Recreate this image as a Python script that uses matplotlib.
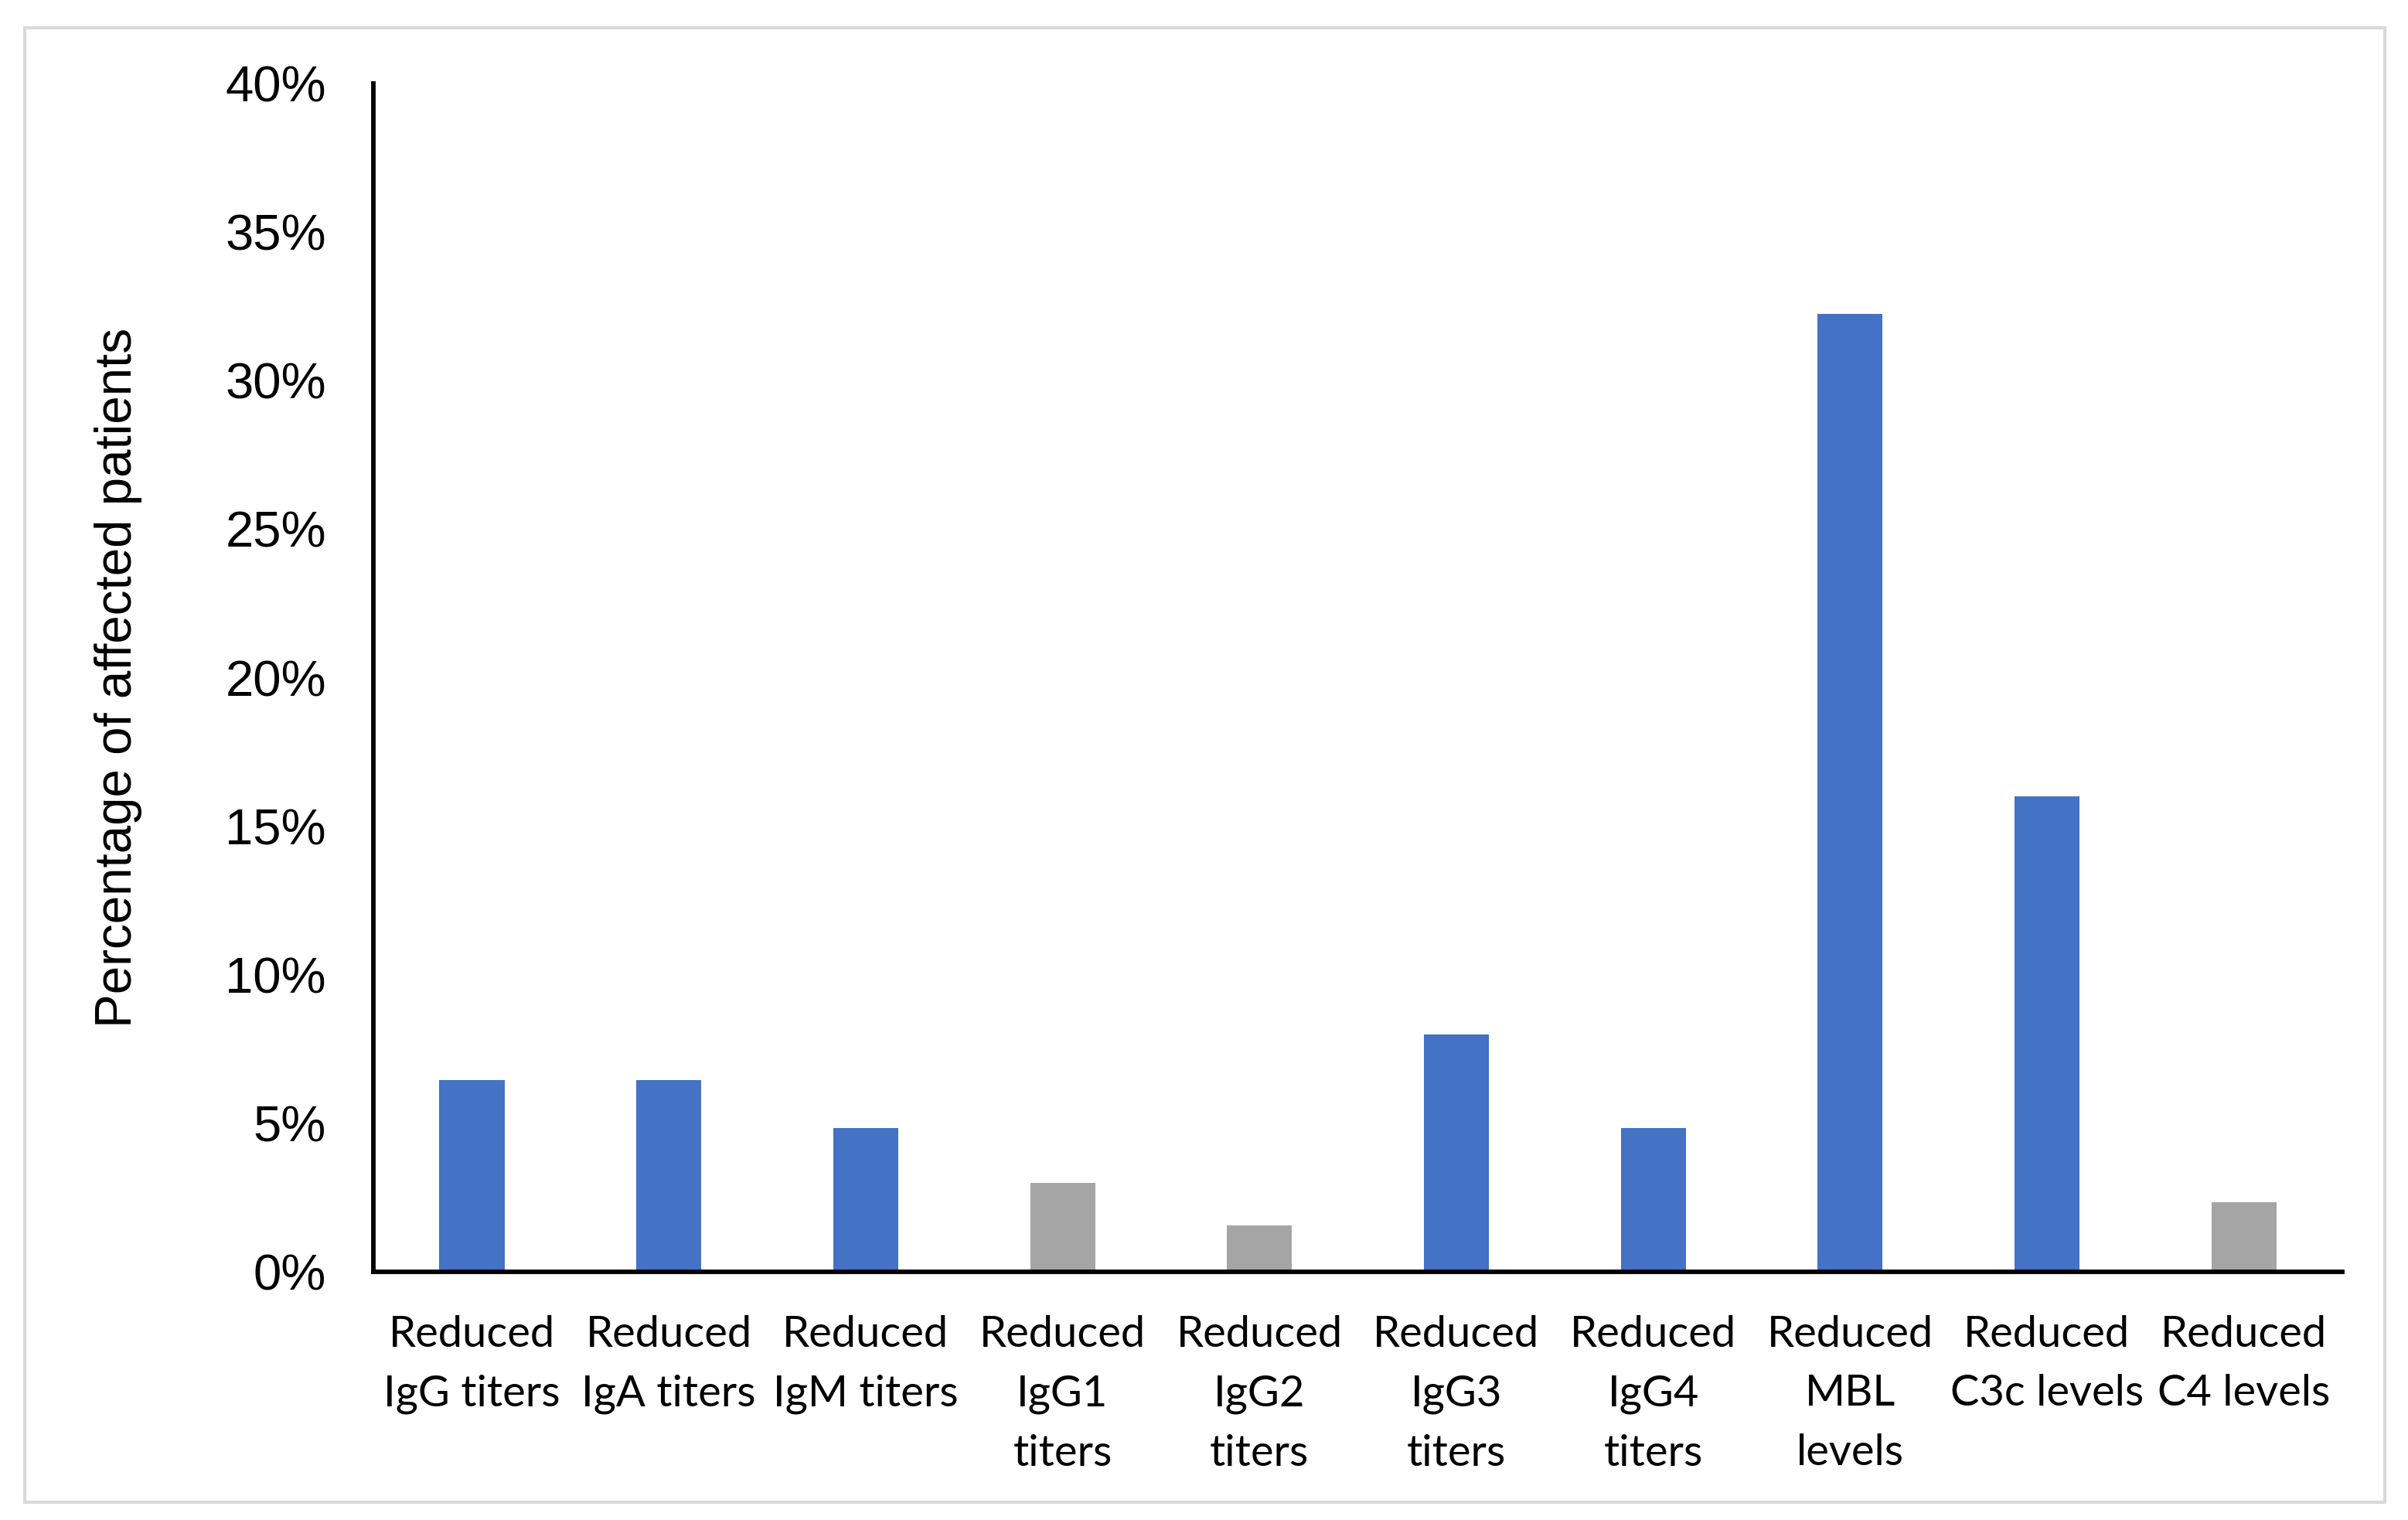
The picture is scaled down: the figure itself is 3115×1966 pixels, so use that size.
import matplotlib
matplotlib.use("Agg")
import matplotlib.pyplot as plt
from matplotlib.patches import Rectangle
from matplotlib.ticker import PercentFormatter

categories = [
    "Reduced\nIgG titers", "Reduced\nIgA titers", "Reduced\nIgM titers",
    "Reduced\nIgG1\ntiters", "Reduced\nIgG2\ntiters", "Reduced\nIgG3\ntiters",
    "Reduced\nIgG4\ntiters", "Reduced\nMBL\nlevels", "Reduced\nC3c levels",
    "Reduced\nC4 levels",
]
percent_affected = [6.45, 6.45, 4.85, 3.0, 1.55, 8.0, 4.85, 32.25, 16.0, 2.35]
significant = [True, True, True, False, False, True, True, True, True, False]

blue = "#4472C4"
grey = "#A5A5A5"
colors = [blue if s else grey for s in significant]

fig = plt.figure(figsize=(15.575, 9.83), dpi=200)
ax = fig.add_axes([0.1551, 0.1633, 0.8176, 0.7817])

x = range(len(categories))
ax.bar(x, percent_affected, width=0.33, color=colors)

ax.set_xlim(-0.5, len(categories) - 0.5)
ax.set_ylim(0, 40)
ax.set_yticks(range(0, 41, 5))
ax.yaxis.set_major_formatter(PercentFormatter(decimals=0))
ax.set_xticks(list(x))
ax.set_xticklabels(categories, family="Lato", fontsize=20.2, linespacing=1.63)

for lbl in ax.get_yticklabels():
    lbl.set_family("Liberation Sans")
    lbl.set_fontsize(23.5)

ax.tick_params(axis="both", length=0)
ax.tick_params(axis="y", pad=22)
ax.tick_params(axis="x", pad=20)

for side in ["top", "right"]:
    ax.spines[side].set_visible(False)
for side in ["left", "bottom"]:
    ax.spines[side].set_linewidth(2.1)
    ax.spines[side].set_color("black")

ax.set_ylabel("Percentage of affected patients", family="Liberation Sans",
              fontsize=23.6)
ax.yaxis.set_label_coords(-0.1175, 0.5)

# light frame round the whole chart
fig.patches.append(Rectangle((0.0103, 0.0117), 0.980, 0.970, transform=fig.transFigure,
                             fill=False, edgecolor="#D9D9D9", linewidth=1.5))

fig.savefig("out.png", dpi=200, facecolor="white")
